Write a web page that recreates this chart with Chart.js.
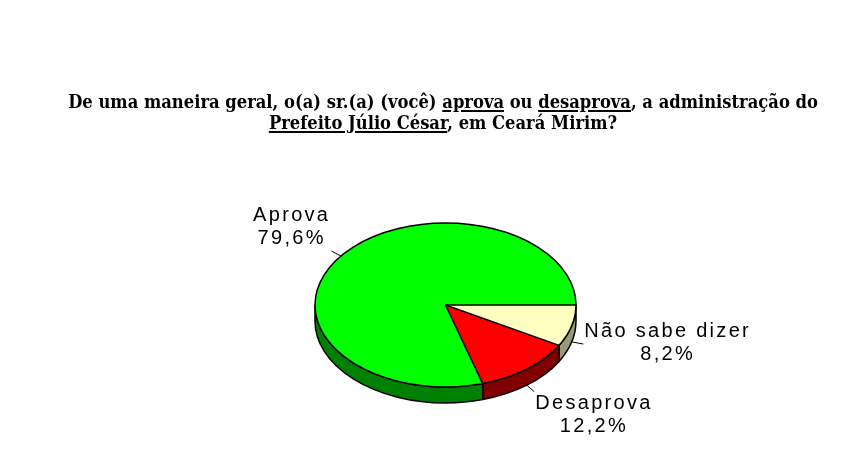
<!DOCTYPE html>
<html><head><meta charset="utf-8">
<script src="https://cdn.jsdelivr.net/npm/chart.js@4"></script>
<style>
html,body{margin:0;padding:0;background:#fff;}
#wrap{position:relative;width:846px;height:462px;overflow:hidden;}
canvas{position:absolute;left:0;top:0;}
#title{position:absolute;left:43px;width:800px;top:91px;text-align:center;font-family:"DejaVu Serif Condensed","DejaVu Serif",serif;font-stretch:condensed;font-weight:bold;font-size:18.2px;line-height:21px;color:#000;white-space:nowrap;}
#title u{text-decoration-thickness:1.5px;text-underline-offset:2px;}
</style></head><body>
<div id="wrap"><canvas id="c" width="846" height="462"></canvas>
<div id="title">De uma maneira geral, o(a) sr.(a) (você) <u>aprova</u> ou <u>desaprova</u>, a administração do<br><u>Prefeito Júlio César</u>, em Ceará Mirim?</div></div>
<script>
// ---- data ----
const categories = ['Não sabe dizer', 'Desaprova', 'Aprova'];
const values = [8.2, 12.2, 79.6];
const valueLabels = ['8,2%', '12,2%', '79,6%'];
const topColors = ['#FFFFC0', '#FF0000', '#00FF00'];
const sideColors = ['#99997A', '#800000', '#008000'];

// ---- layout constants ----
const TILT = 0.628;   // vertical squash of the pie
const DEPTH = 16;     // 3D thickness
const LEADER = 12;
const labelDy = [-7, 17, -30];
const LINE_GAP = 23;

const pie3d = {
  id: 'pie3d',
  beforeDatasetsDraw(chart) {
    const ctx = chart.ctx;
    const meta = chart.getDatasetMeta(0);
    const a0 = meta.data[0];
    const cx = a0.x, cy = a0.y, r = a0.outerRadius;
    ctx.save();
    ctx.lineWidth = 1.5;
    ctx.strokeStyle = '#000';
    ctx.lineJoin = 'round';
    meta.data.forEach((a, i) => {
      const s = Math.max(a.startAngle, 0), e = Math.min(a.endAngle, Math.PI);
      if (e <= s) return;
      ctx.beginPath();
      ctx.ellipse(cx, cy, r, r * TILT, 0, s, e, false);
      ctx.lineTo(cx + r * Math.cos(e), cy + r * TILT * Math.sin(e) + DEPTH);
      ctx.ellipse(cx, cy + DEPTH, r, r * TILT, 0, e, s, true);
      ctx.closePath();
      ctx.fillStyle = sideColors[i];
      ctx.fill();
      ctx.stroke();
    });
    ctx.restore();
    ctx.save();
    ctx.translate(cx, cy);
    ctx.scale(1, TILT);
    ctx.translate(-cx, -cy);
  },
  afterDatasetsDraw(chart) {
    const ctx = chart.ctx;
    ctx.restore();
    const meta = chart.getDatasetMeta(0);
    const a0 = meta.data[0];
    const cx = a0.x, cy = a0.y, r = a0.outerRadius;
    ctx.save();
    ctx.lineWidth = 1.5;
    ctx.strokeStyle = '#000';
    ctx.beginPath();
    ctx.ellipse(cx, cy, r, r * TILT, 0, 0, Math.PI * 2);
    ctx.stroke();
    meta.data.forEach((a) => {
      ctx.beginPath();
      ctx.moveTo(cx, cy);
      ctx.lineTo(cx + r * Math.cos(a.startAngle), cy + r * TILT * Math.sin(a.startAngle));
      ctx.stroke();
    });
    ctx.font = '20px "Liberation Sans", Arial, sans-serif';
    try { ctx.letterSpacing = '2.3px'; } catch (e) {}
    ctx.textAlign = 'center';
    ctx.textBaseline = 'alphabetic';
    ctx.fillStyle = '#000';
    meta.data.forEach((a, i) => {
      const m = (a.startAngle + a.endAngle) / 2;
      const c = Math.cos(m), s = Math.sin(m);
      const px = cx + r * c;
      const py = cy + r * TILT * s + (s > 0 ? DEPTH : 0);
      const ex = px + LEADER * c, ey = py + LEADER * s * 0.7;
      ctx.lineWidth = 1;
      ctx.strokeStyle = '#000';
      ctx.beginPath();
      ctx.moveTo(px, py);
      ctx.lineTo(ex, ey);
      ctx.stroke();
      const w = ctx.measureText(categories[i]).width;
      const tx = ex + (c >= 0 ? 1 : -1) * (w / 2 + 1);
      const ty = ey + labelDy[i];
      ctx.fillText(categories[i], tx, ty);
      ctx.fillText(valueLabels[i], tx, ty + LINE_GAP);
    });
    ctx.restore();
  }
};

new Chart(document.getElementById('c'), {
  type: 'pie',
  data: {
    labels: categories,
    datasets: [{
      data: values,
      backgroundColor: topColors,
      borderColor: '#000',
      borderWidth: 0,
      clip: false
    }]
  },
  options: {
    responsive: false,
    animation: false,
    devicePixelRatio: 1,
    rotation: 90,
    layout: { padding: { left: 315, right: 270, top: 174.5, bottom: 26.5 } },
    plugins: { legend: { display: false }, tooltip: { enabled: false }, title: { display: false } }
  },
  plugins: [pie3d]
});
</script>
</body></html>
